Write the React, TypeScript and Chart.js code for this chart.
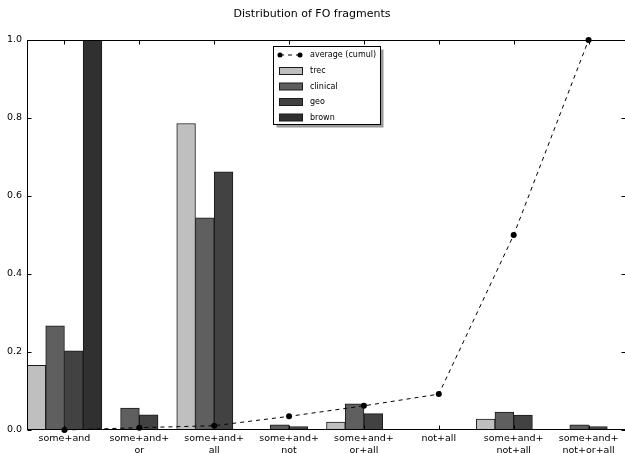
import React, { useEffect, useRef } from "react";
import { Chart, registerables } from "chart.js";
Chart.register(...registerables);

const chartTitle = "Distribution of FO fragments";
const categories: string[][] = [
  ["some+and"],
  ["some+and+", "or"],
  ["some+and+", "all"],
  ["some+and+", "not"],
  ["some+and+", "or+all"],
  ["not+all"],
  ["some+and+", "not+all"],
  ["some+and+", "not+or+all"],
];
const trec = [0.166, 0, 0.786, 0, 0.02, 0, 0.028, 0];
const clinical = [0.267, 0.056, 0.544, 0.013, 0.067, 0, 0.046, 0.013];
const geo = [0.203, 0.039, 0.662, 0.009, 0.042, 0, 0.038, 0.009];
const brown = [1.0, 0, 0.002, 0, 0, 0, 0.002, 0];
const average = [0, 0.006, 0.011, 0.035, 0.062, 0.092, 0.5, 1.0];
const yTicks = [0, 0.2, 0.4, 0.6, 0.8, 1.0];

const FONT = "DejaVu Sans";

const framePlugin = {
  id: "frame",
  afterDraw(chart: any) {
    const { ctx, chartArea: a, scales } = chart;
    ctx.save();
    ctx.strokeStyle = "#000";
    ctx.lineWidth = 1;
    const L = Math.round(a.left) + 0.5;
    const R = Math.round(a.right) - 0.5;
    const T = Math.round(a.top) + 0.5;
    const B = Math.round(a.bottom) - 0.5;
    ctx.strokeRect(L, T, R - L, B - T);
    const tl = 4;
    ctx.beginPath();
    categories.forEach((_, i) => {
      const x = Math.round(scales.x.getPixelForValue(i)) + 0.5;
      ctx.moveTo(x, B);
      ctx.lineTo(x, B - tl);
      ctx.moveTo(x, T);
      ctx.lineTo(x, T + tl);
    });
    yTicks.forEach((v) => {
      const y = Math.round(scales.y.getPixelForValue(v)) + 0.5;
      ctx.moveTo(L, y);
      ctx.lineTo(L + tl, y);
      ctx.moveTo(R, y);
      ctx.lineTo(R - tl, y);
    });
    ctx.stroke();

    // title
    ctx.fillStyle = "#000";
    ctx.font = `11px "${FONT}"`;
    ctx.textAlign = "center";
    ctx.textBaseline = "middle";
    ctx.fillText(chartTitle, 312, 14);

    // legend
    const bx = 273.5, by = 46.5, bw = 107, bh = 78;
    ctx.fillStyle = "#999";
    ctx.fillRect(bx + 3, by + 3, bw, bh);
    ctx.fillStyle = "#fff";
    ctx.fillRect(bx, by, bw, bh);
    ctx.strokeStyle = "#000";
    ctx.strokeRect(bx, by, bw, bh);
    const ds = chart.data.datasets;
    const rows = [55, 71, 86.5, 102, 117.5];
    ctx.font = `8px "${FONT}"`;
    ctx.textAlign = "left";
    ds.forEach((d: any, i: number) => {
      const y = rows[i];
      if (d.type === "line") {
        ctx.save();
        ctx.setLineDash([4, 4]);
        ctx.beginPath();
        ctx.moveTo(280, y);
        ctx.lineTo(300, y);
        ctx.stroke();
        ctx.restore();
        ctx.fillStyle = "#000";
        [280, 300].forEach((px) => {
          ctx.beginPath();
          ctx.arc(px, y, 2.5, 0, Math.PI * 2);
          ctx.fill();
        });
      } else {
        ctx.fillStyle = d.backgroundColor;
        ctx.fillRect(279.5, y - 3.5, 23, 7);
        ctx.strokeStyle = "#1a1a1a";
        ctx.strokeRect(279.5, y - 3.5, 23, 7);
      }
      ctx.fillStyle = "#000";
      ctx.fillText(d.label, 310, y);
    });
    ctx.restore();
  },
};

export default function App() {
  const ref = useRef<HTMLCanvasElement>(null);
  useEffect(() => {
    if (!ref.current) return;
    const barDs = (label: string, data: number[], color: string) => ({
      label,
      data,
      backgroundColor: color,
      borderColor: "#1a1a1a",
      borderWidth: 1,
      order: 1,
    });
    const chart = new Chart(ref.current, {
      type: "bar",
      data: {
        labels: categories as any,
        datasets: [
          {
            type: "line",
            label: "average (cumul)",
            data: average,
            borderColor: "#000",
            borderWidth: 1,
            borderDash: [4, 4],
            pointRadius: 3,
            pointBackgroundColor: "#000",
            pointBorderColor: "#000",
            pointBorderWidth: 0,
            fill: false,
            tension: 0,
            order: 0,
            clip: false,
          } as any,
          barDs("trec", trec, "#bfbfbf"),
          barDs("clinical", clinical, "#5f5f5f"),
          barDs("geo", geo, "#424242"),
          barDs("brown", brown, "#303030"),
        ],
      },
      options: {
        animation: false,
        responsive: false,
        maintainAspectRatio: false,
        layout: { padding: { top: 40, right: 4, left: 0, bottom: 0 } },
        datasets: { bar: { barPercentage: 1, categoryPercentage: 1 } } as any,
        plugins: {
          legend: { display: false },
          tooltip: { enabled: false },
          title: { display: false },
        },
        scales: {
          x: {
            offset: true,
            grid: { display: false, drawTicks: false },
            border: { display: false },
            ticks: {
              font: { family: FONT, size: 9.5, lineHeight: 1.25 },
              color: "#000",
              padding: 3,
              maxRotation: 0,
              autoSkip: false,
            },
            afterFit(s: any) {
              s.height = 23;
            },
          },
          y: {
            min: 0,
            max: 1,
            grid: { display: false, drawTicks: false },
            border: { display: false },
            ticks: {
              stepSize: 0.2,
              font: { family: FONT, size: 9.5 },
              color: "#000",
              padding: 5,
              callback: (v: any) => Number(v).toFixed(1),
            },
            afterFit(s: any) {
              s.width = 27;
            },
          },
        },
      },
      plugins: [framePlugin],
    });
    return () => chart.destroy();
  }, []);
  return (
    <div
      style={{
        position: "absolute",
        left: 0,
        top: 0,
        width: 625,
        height: 453,
        overflow: "hidden",
        background: "#fff",
      }}
    >
      <canvas ref={ref} width={630} height={453} style={{ display: "block" }} />
    </div>
  );
}
